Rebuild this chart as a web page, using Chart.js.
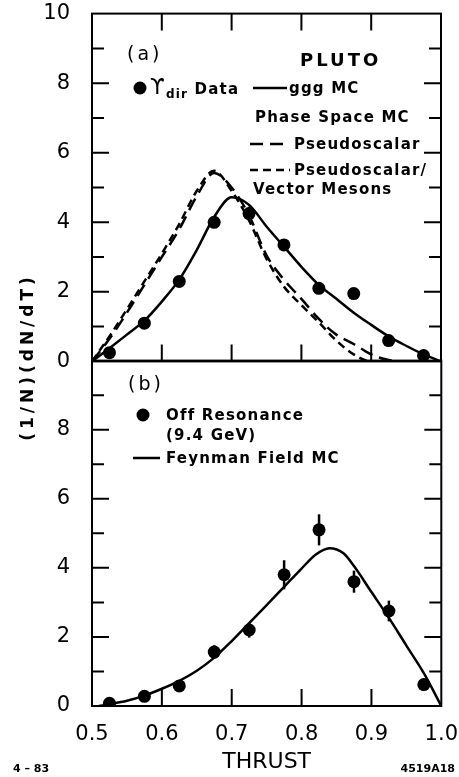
<!DOCTYPE html>
<html>
<head>
<meta charset="utf-8">
<script src="https://cdn.jsdelivr.net/npm/chart.js@4.4.1/dist/chart.umd.min.js"></script>
<style>
	body { margin: 0; background: #fff; }
	#wrap { position: relative; width: 459px; height: 777px; overflow: hidden; font-family: 'DejaVu Sans', sans-serif; color: #000; }
	canvas { position: absolute; left: 0; }
	#top_chart { top: -13px; }
	#bottom_chart { top: 334px; }
	#marks { position: absolute; left: 0; top: 0; }
	.txt { position: absolute; white-space: nowrap; line-height: 1; font-weight: bold; font-size: 15px; letter-spacing: 1.2px; transform: translateY(-50%); }
	.panel { font-size: 19px; font-weight: normal; letter-spacing: 3px; }
	#y_title { position: absolute; left: 27px; top: 357px; transform: translate(-50%, -50%) rotate(-90deg); white-space: nowrap; font-size: 17px; font-weight: bold; letter-spacing: 4px; }
	.foot { position: absolute; top: 768px; transform: translateY(-50%); font-size: 11px; font-weight: bold; }
</style>
</head>
<body>
<div id="wrap">
	<canvas id="top_chart" width="459" height="401"></canvas>
	<canvas id="bottom_chart" width="461" height="443"></canvas>
	<svg id="marks" width="459" height="777">
		<circle cx="140" cy="88" r="6.5" fill="#000"/>
		<line x1="253" y1="88" x2="287" y2="88" stroke="#000" stroke-width="2.5"/>
		<line x1="250" y1="144" x2="290" y2="144" stroke="#000" stroke-width="2.5" stroke-dasharray="13 7"/>
		<line x1="250" y1="170" x2="290" y2="170" stroke="#000" stroke-width="2.5" stroke-dasharray="8 5"/>
		<circle cx="143" cy="415" r="6.5" fill="#000"/>
		<line x1="133" y1="458" x2="160" y2="458" stroke="#000" stroke-width="2.5"/>
	</svg>
	<div class="txt panel" style="left:127px; top:53px;">(a)</div>
	<div class="txt" style="left:300px; top:60px; font-size:18px; letter-spacing:3px;">PLUTO</div>
	<div class="txt" style="left:150px; top:88px;"><span style="font-size:21px; font-weight:normal;">ϒ</span><sub style="font-size:12px;">dir</sub> Data</div>
	<div class="txt" style="left:289px; top:88px;">ggg MC</div>
	<div class="txt" style="left:255px; top:117px;">Phase Space MC</div>
	<div class="txt" style="left:294px; top:144px;">Pseudoscalar</div>
	<div class="txt" style="left:294px; top:170px;">Pseudoscalar/</div>
	<div class="txt" style="left:253px; top:189px;">Vector Mesons</div>
	<div class="txt panel" style="left:128px; top:383px;">(b)</div>
	<div class="txt" style="left:166px; top:415px;">Off Resonance</div>
	<div class="txt" style="left:166px; top:435px;">(9.4 GeV)</div>
	<div class="txt" style="left:166px; top:458px;">Feynman Field MC</div>
	<div id="y_title">(1/N)(dN/dT)</div>
	<div class="foot" style="left:13px;">4 – 83</div>
	<div class="foot" style="right:4px;">4519A18</div>
</div>
<script>
// data bins (thrust bin centres)
const thrust_bins = [0.525, 0.575, 0.625, 0.675, 0.725, 0.775, 0.825, 0.875, 0.925, 0.975];
// (a) direct upsilon data
const ups_dir_data = [0.25, 1.1, 2.3, 4.0, 4.25, 3.35, 2.1, 1.95, 0.6, 0.17];
const ups_dir_err = [0, 0, 0, 0.1, 0.2, 0.1, 0, 0, 0, 0];
// (b) off resonance data
const off_res_data = [0.08, 0.28, 0.58, 1.56, 2.2, 3.8, 5.1, 3.6, 2.75, 0.62];
const off_res_err = [0, 0.05, 0.12, 0.2, 0.22, 0.42, 0.45, 0.32, 0.3, 0.1];
// MC curves
const mc_thrust = [0.50, 0.525, 0.55, 0.575, 0.60, 0.625, 0.65, 0.675, 0.70, 0.725, 0.75, 0.775, 0.80, 0.825, 0.85, 0.875, 0.90, 0.925, 0.95, 0.975, 1.0];
const ggg_mc = [0.0, 0.38, 0.77, 1.17, 1.72, 2.35, 3.2, 4.15, 4.72, 4.5, 3.88, 3.3, 2.72, 2.2, 1.8, 1.4, 1.05, 0.72, 0.45, 0.2, 0.0];
const ps_mc = [0.0, 0.65, 1.4, 2.2, 3.0, 3.8, 4.75, 5.42, 5.0, 4.2, 3.05, 2.35, 1.8, 1.22, 0.77, 0.5, 0.2, 0.04, 0.0, 0.0, 0.0];
const psv_mc = [0.0, 0.72, 1.5, 2.3, 3.1, 3.95, 4.9, 5.48, 4.9, 4.05, 2.95, 2.15, 1.62, 1.12, 0.6, 0.2, 0.0, 0.0, 0.0, 0.0, 0.0];
const ff_thrust = [0.51, 0.525, 0.55, 0.575, 0.60, 0.625, 0.65, 0.675, 0.70, 0.725, 0.75, 0.775, 0.80, 0.82, 0.84, 0.86, 0.875, 0.90, 0.925, 0.95, 0.975, 1.0];
const ff_mc = [0.0, 0.05, 0.15, 0.3, 0.5, 0.73, 1.02, 1.4, 1.88, 2.4, 2.92, 3.45, 3.98, 4.38, 4.57, 4.42, 4.05, 3.3, 2.55, 1.75, 0.95, 0.0];
// axis ticks
const x_inner_ticks = [0.6, 0.7, 0.8, 0.9];
const y_inner_ticks = [1, 2, 3, 4, 5, 6, 7, 8, 9];

function pts(xs, ys) {
	return xs.map((x, i) => ({ x: x, y: ys[i] }));
}

const tick_font = { family: 'DejaVu Sans', size: 21 };

// frame, inward ticks and error bars
const frame_plugin = {
	id: 'frame',
	beforeDatasetsDraw(chart, args, opts) {
		let ctx = chart.ctx, xs = chart.scales.x, ys = chart.scales.y;
		ctx.save();
		ctx.strokeStyle = '#000';
		ctx.lineWidth = 2.5;
		opts.errors.forEach((e, i) => {
			if (!e) return;
			let px = xs.getPixelForValue(thrust_bins[i]);
			ctx.beginPath();
			ctx.moveTo(px, ys.getPixelForValue(opts.values[i] - e));
			ctx.lineTo(px, ys.getPixelForValue(opts.values[i] + e));
			ctx.stroke();
		});
		ctx.restore();
	},
	afterDraw(chart, args, opts) {
		let ctx = chart.ctx, a = chart.chartArea, xs = chart.scales.x, ys = chart.scales.y;
		ctx.save();
		ctx.strokeStyle = '#000';
		ctx.lineWidth = 2;
		ctx.strokeRect(a.left, a.top, a.right - a.left, a.bottom - a.top);
		ctx.beginPath();
		y_inner_ticks.forEach(v => {
			let py = ys.getPixelForValue(v), len = v % 2 ? 12 : 17;
			ctx.moveTo(a.left, py);
			ctx.lineTo(a.left + len, py);
			ctx.moveTo(a.right, py);
			ctx.lineTo(a.right - len, py);
		});
		x_inner_ticks.forEach(v => {
			let px = xs.getPixelForValue(v);
			ctx.moveTo(px, a.bottom);
			ctx.lineTo(px, a.bottom - 17);
			if (opts.top_ticks) {
				ctx.moveTo(px, a.top);
				ctx.lineTo(px, a.top + 17);
			}
		});
		ctx.stroke();
		ctx.restore();
	}
};

function line_set(xs, ys, dash) {
	return {
		data: pts(xs, ys),
		showLine: true,
		pointRadius: 0,
		borderColor: '#000',
		borderWidth: 2.5,
		borderDash: dash,
		cubicInterpolationMode: 'monotone'
	};
}

function point_set(ys) {
	return {
		data: pts(thrust_bins, ys),
		showLine: false,
		pointRadius: 6.5,
		pointBackgroundColor: '#000',
		pointBorderWidth: 0
	};
}

function panel_config(datasets, cfg) {
	return {
		type: 'scatter',
		data: { datasets: datasets },
		plugins: [frame_plugin],
		options: {
			responsive: false,
			animation: false,
			layout: { padding: { top: 0, right: 18, left: 0, bottom: 0 } },
			plugins: {
				legend: { display: false },
				tooltip: { enabled: false },
				frame: { top_ticks: cfg.top_ticks, errors: cfg.errors, values: cfg.values }
			},
			scales: {
				x: {
					type: 'linear', min: 0.5, max: 1.0,
					grid: { display: false },
					border: { display: false },
					ticks: { display: cfg.x_labels, stepSize: 0.1, padding: 8, color: '#000', font: tick_font, maxRotation: 0,
						callback: v => v.toFixed(1) },
					title: { display: cfg.x_labels, text: 'THRUST', color: '#000', font: { family: 'DejaVu Sans', size: 22 }, padding: { top: 0, bottom: 2 } },
					afterFit: s => { s.height = cfg.x_height; }
				},
				y: {
					min: 0, max: 10,
					grid: { display: false },
					border: { display: false },
					ticks: { stepSize: 2, padding: 14, color: '#000', font: tick_font,
						callback: v => (cfg.hide_top && v === 10) ? '' : v },
					afterFit: s => { s.width = 92; }
				}
			}
		}
	};
}

// the tick labels push the plot box around, so rebuild with a wider canvas until its right edge is at x = 441
function make_panel(id, datasets, cfg) {
	let canvas = document.getElementById(id),
			chart = new Chart(canvas, panel_config(datasets, cfg));
	for (let k = 0; k < 3; k++) {
		let dx = Math.round(441 - chart.chartArea.right);
		if (!dx) break;
		let w = canvas.width + dx, h = canvas.height;
		chart.destroy();
		canvas.width = w;
		canvas.height = h;
		canvas.style.width = w + 'px';
		canvas.style.height = h + 'px';
		chart = new Chart(canvas, panel_config(datasets, cfg));
	}
	return chart;
}

make_panel('top_chart', [
	line_set(mc_thrust, ps_mc, [13, 7]),
	line_set(mc_thrust, psv_mc, [8, 5]),
	line_set(mc_thrust, ggg_mc, []),
	point_set(ups_dir_data)
], { x_height: 0, x_labels: false, top_ticks: true, hide_top: false, errors: ups_dir_err, values: ups_dir_data });

make_panel('bottom_chart', [
	line_set(ff_thrust, ff_mc, []),
	point_set(off_res_data)
], { x_height: 71, x_labels: true, top_ticks: false, hide_top: true, errors: off_res_err, values: off_res_data });
</script>
</body>
</html>
